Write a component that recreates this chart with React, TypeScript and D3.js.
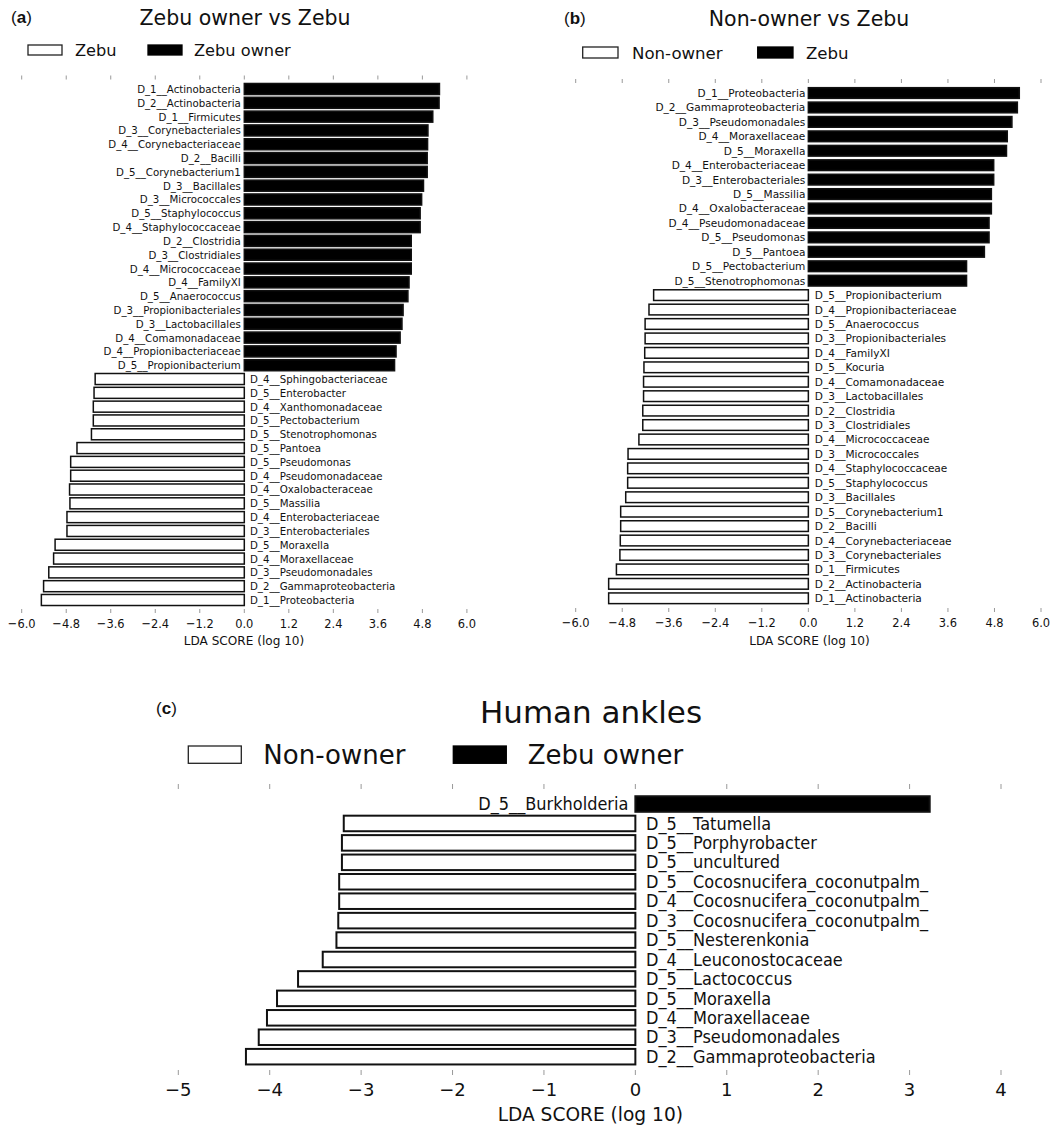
import React from "react";
import * as d3 from "d3";

// LDA scores (LEfSe output)
const zebuOwnerTaxa = [
  "D_1__Actinobacteria", "D_2__Actinobacteria", "D_1__Firmicutes", "D_3__Corynebacteriales",
  "D_4__Corynebacteriaceae", "D_2__Bacilli", "D_5__Corynebacterium1", "D_3__Bacillales",
  "D_3__Micrococcales", "D_5__Staphylococcus", "D_4__Staphylococcaceae", "D_2__Clostridia",
  "D_3__Clostridiales", "D_4__Micrococcaceae", "D_4__FamilyXI", "D_5__Anaerococcus",
  "D_3__Propionibacteriales", "D_3__Lactobacillales", "D_4__Comamonadaceae",
  "D_4__Propionibacteriaceae", "D_5__Propionibacterium",
  "D_4__Sphingobacteriaceae", "D_5__Enterobacter", "D_4__Xanthomonadaceae", "D_5__Pectobacterium",
  "D_5__Stenotrophomonas", "D_5__Pantoea", "D_5__Pseudomonas", "D_4__Pseudomonadaceae",
  "D_4__Oxalobacteraceae", "D_5__Massilia", "D_4__Enterobacteriaceae", "D_3__Enterobacteriales",
  "D_5__Moraxella", "D_4__Moraxellaceae", "D_3__Pseudomonadales", "D_2__Gammaproteobacteria",
  "D_1__Proteobacteria",
];
const zebuOwnerLda = [
  5.26, 5.25, 5.08, 4.95, 4.94, 4.93, 4.93, 4.83, 4.78, 4.74, 4.74, 4.5, 4.5, 4.5, 4.44, 4.41,
  4.28, 4.25, 4.2, 4.09, 4.05,
  -4.02, -4.05, -4.07, -4.07, -4.12, -4.51, -4.68, -4.68, -4.71, -4.7, -4.78, -4.78, -5.1, -5.14,
  -5.27, -5.41, -5.47,
];

const nonOwnerTaxa = [
  "D_1__Proteobacteria", "D_2__Gammaproteobacteria", "D_3__Pseudomonadales", "D_4__Moraxellaceae",
  "D_5__Moraxella", "D_4__Enterobacteriaceae", "D_3__Enterobacteriales", "D_5__Massilia",
  "D_4__Oxalobacteraceae", "D_4__Pseudomonadaceae", "D_5__Pseudomonas", "D_5__Pantoea",
  "D_5__Pectobacterium", "D_5__Stenotrophomonas",
  "D_5__Propionibacterium", "D_4__Propionibacteriaceae", "D_5__Anaerococcus",
  "D_3__Propionibacteriales", "D_4__FamilyXI", "D_5__Kocuria", "D_4__Comamonadaceae",
  "D_3__Lactobacillales", "D_2__Clostridia", "D_3__Clostridiales", "D_4__Micrococcaceae",
  "D_3__Micrococcales", "D_4__Staphylococcaceae", "D_5__Staphylococcus", "D_3__Bacillales",
  "D_5__Corynebacterium1", "D_2__Bacilli", "D_4__Corynebacteriaceae", "D_3__Corynebacteriales",
  "D_1__Firmicutes", "D_2__Actinobacteria", "D_1__Actinobacteria",
];
const nonOwnerLda = [
  5.44, 5.39, 5.25, 5.13, 5.11, 4.78, 4.78, 4.72, 4.72, 4.66, 4.66, 4.54, 4.08, 4.08,
  -3.99, -4.11, -4.21, -4.21, -4.22, -4.24, -4.25, -4.25, -4.27, -4.27, -4.37, -4.65, -4.66,
  -4.66, -4.71, -4.84, -4.84, -4.85, -4.86, -4.95, -5.15, -5.15,
];

const anklesTaxa = [
  "D_5__Burkholderia", "D_5__Tatumella", "D_5__Porphyrobacter", "D_5__uncultured",
  "D_5__Cocosnucifera_coconutpalm_", "D_4__Cocosnucifera_coconutpalm_",
  "D_3__Cocosnucifera_coconutpalm_", "D_5__Nesterenkonia", "D_4__Leuconostocaceae",
  "D_5__Lactococcus", "D_5__Moraxella", "D_4__Moraxellaceae", "D_3__Pseudomonadales",
  "D_2__Gammaproteobacteria",
];
const anklesLda = [3.22, -3.19, -3.21, -3.21, -3.24, -3.24, -3.25, -3.27, -3.42, -3.69, -3.92, -4.03, -4.12, -4.26];

const ticksAB = [-6.0, -4.8, -3.6, -2.4, -1.2, 0.0, 1.2, 2.4, 3.6, 4.8, 6.0];
const ticksC = [-5, -4, -3, -2, -1, 0, 1, 2, 3, 4];

const FONT = "DejaVu Sans, sans-serif";

interface PanelProps {
  letter: string;
  title: string;
  legend: string[];
  taxa: string[];
  lda: number[];
  ticks: number[];
  fmt: (n: number) => string;
  domain: [number, number];
  xRange: [number, number];
  yRange: [number, number];
  pad: number;
  stroke: number;
  letterPos: [number, number];
  letterSize: number;
  titlePos: [number, number];
  titleSize: number;
  legendBox: [number, number, number, number]; // x1, x2, y, h
  legendBoxW: number;
  legendText: [number, number];
  legendY: number;
  legendSize: number;
  topTick: [number, number];
  bottomTick: [number, number];
  tickLabelY: number;
  tickSize: number;
  tickScale: number;
  axisTitle: [number, number];
  axisTitleSize: number;
  labelSize: number;
  labelScale: number;
  labelOff: [number, number];
}

function Panel(p: PanelProps) {
  const x = d3.scaleLinear().domain(p.domain).range(p.xRange);
  const y = d3.scaleBand<string>()
    .domain(p.taxa.map((t, i) => i + ":" + t))
    .range(p.yRange)
    .paddingInner(p.pad)
    .paddingOuter(p.pad / 2);
  const x0 = x(0);
  return (
    <g>
      <text x={p.letterPos[0]} y={p.letterPos[1]} dy="0.35em" fontFamily="Liberation Sans, Arial, sans-serif"
        fontSize={p.letterSize} fill="#111">
        (<tspan fontWeight="bold">{p.letter}</tspan>)
      </text>
      <text x={p.titlePos[0]} y={p.titlePos[1]} dy="0.36em" textAnchor="middle" fontFamily={FONT}
        fontSize={p.titleSize} fill="#111">{p.title}</text>

      <rect x={p.legendBox[0]} y={p.legendBox[2]} width={p.legendBoxW} height={p.legendBox[3]}
        fill="#fff" stroke="#222" strokeWidth={1.3} />
      <text x={p.legendText[0]} y={p.legendY} dy="0.36em" fontFamily={FONT} fontSize={p.legendSize} fill="#111">
        {p.legend[0]}
      </text>
      <rect x={p.legendBox[1]} y={p.legendBox[2]} width={p.legendBoxW} height={p.legendBox[3]}
        fill="#000" stroke="#000" strokeWidth={1.3} />
      <text x={p.legendText[1]} y={p.legendY} dy="0.36em" fontFamily={FONT} fontSize={p.legendSize} fill="#111">
        {p.legend[1]}
      </text>

      {p.ticks.map((t) => (
        <g key={"t" + t}>
          <line x1={x(t)} x2={x(t)} y1={p.topTick[0]} y2={p.topTick[1]} stroke="#999" strokeWidth={1} />
          <line x1={x(t)} x2={x(t)} y1={p.bottomTick[0]} y2={p.bottomTick[1]} stroke="#999" strokeWidth={1} />
          <text transform={`translate(${x(t)},${p.tickLabelY}) scale(${p.tickScale},1)`} dy="0.36em"
            textAnchor="middle" fontFamily={FONT} fontSize={p.tickSize} fill="#111">{p.fmt(t)}</text>
        </g>
      ))}

      {p.taxa.map((t, i) => {
        const v = p.lda[i];
        const key = i + ":" + t;
        const yy = y(key)!;
        const h = y.bandwidth();
        const pos = v > 0;
        const lx = pos ? x0 - p.labelOff[0] : x0 + p.labelOff[1];
        return (
          <g key={key}>
            <rect x={Math.min(x(v), x0)} y={yy} width={Math.abs(x(v) - x0)} height={h}
              fill={pos ? "#000" : "#fff"} stroke="#111" strokeWidth={p.stroke} />
            <text transform={`translate(${lx},${yy + h / 2}) scale(${p.labelScale},1)`} dy="0.36em"
              textAnchor={pos ? "end" : "start"} fontFamily={FONT} fontSize={p.labelSize} fill="#111">{t}</text>
          </g>
        );
      })}

      <text transform={`translate(${p.axisTitle[0]},${p.axisTitle[1]}) scale(0.93,1)`} dy="0.36em"
        textAnchor="middle" fontFamily={FONT} fontSize={p.axisTitleSize} fill="#111">LDA SCORE (log 10)</text>
    </g>
  );
}

const fmt1 = d3.format(".1f");
const fmt0 = d3.format("d");

export default function App() {
  return (
    <svg width={1053} height={1129} style={{ position: "absolute", left: 0, top: 0, background: "#fff" }}>
      <rect width={1053} height={1129} fill="#fff" />
      <Panel
        letter="a" title="Zebu owner vs Zebu" legend={["Zebu", "Zebu owner"]}
        taxa={zebuOwnerTaxa} lda={zebuOwnerLda} ticks={ticksAB} fmt={fmt1}
        domain={[-6, 6]} xRange={[21.7, 466.9]} yRange={[82.1, 606.9]} pad={0.2} stroke={1.5}
        letterPos={[11, 17]} letterSize={17} titlePos={[245, 17.5]} titleSize={20.5}
        legendBox={[28, 148, 45, 10]} legendBoxW={34} legendText={[75, 194]} legendY={50} legendSize={16.2}
        topTick={[75.5, 79.5]} bottomTick={[609, 613]} tickLabelY={623} tickSize={13} tickScale={0.88}
        axisTitle={[244, 640]} axisTitleSize={13} labelSize={11} labelScale={0.93} labelOff={[3.5, 5.7]}
      />
      <Panel
        letter="b" title="Non-owner vs Zebu" legend={["Non-owner", "Zebu"]}
        taxa={nonOwnerTaxa} lda={nonOwnerLda} ticks={ticksAB} fmt={fmt1}
        domain={[-6, 6]} xRange={[575.7, 1041]} yRange={[85.8, 605.5]} pad={0.26} stroke={1.5}
        letterPos={[564, 18]} letterSize={17} titlePos={[809, 18.3]} titleSize={20.5}
        legendBox={[582.7, 757.7, 47, 11]} legendBoxW={35.3} legendText={[632, 806]} legendY={52.8} legendSize={16.6}
        topTick={[79, 83]} bottomTick={[608, 612]} tickLabelY={622} tickSize={13} tickScale={0.88}
        axisTitle={[809.5, 640]} axisTitleSize={13} labelSize={11} labelScale={0.96} labelOff={[3, 6.5]}
      />
      <Panel
        letter="c" title="Human ankles" legend={["Non-owner", "Zebu owner"]}
        taxa={anklesTaxa} lda={anklesLda} ticks={ticksC} fmt={fmt0}
        domain={[-5, 4]} xRange={[178.3, 1001]} yRange={[794.3, 1066.4]} pad={0.2} stroke={2}
        letterPos={[156, 708]} letterSize={17} titlePos={[591, 711.7]} titleSize={31}
        legendBox={[188.3, 453.3, 746, 17.3]} legendBoxW={53} legendText={[263.3, 527.7]} legendY={755} legendSize={26}
        topTick={[784, 789]} bottomTick={[1070, 1075]} tickLabelY={1090} tickSize={18} tickScale={1}
        axisTitle={[590.3, 1113.5]} axisTitleSize={20} labelSize={17} labelScale={0.95} labelOff={[7, 10.7]}
      />
    </svg>
  );
}
